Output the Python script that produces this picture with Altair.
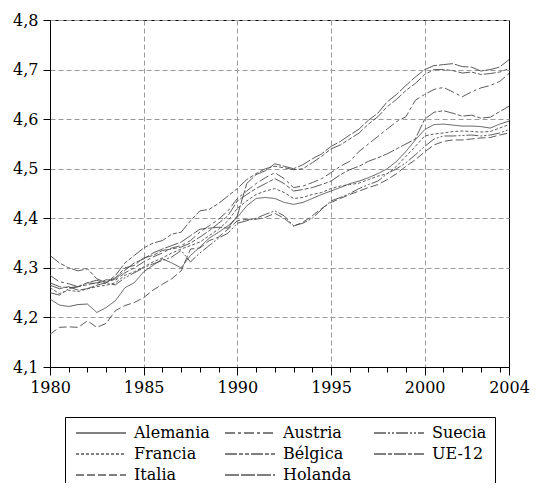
import altair as alt
import pandas as pd

# half-year observation times, 1980 .. 2004.5
periods = [1980 + 0.5 * i for i in range(50)]

# legend is filled column by column: col1 Alemania/Francia/Italia, col2 Austria/Bélgica/Holanda, col3 Suecia/UE-12
series_names = ["Alemania", "Francia", "Italia", "Austria", "Bélgica", "Holanda", "Suecia", "UE-12"]

alemania = [4.237, 4.225, 4.222, 4.226, 4.227, 4.210, 4.220, 4.234, 4.260, 4.270,
            4.292, 4.305, 4.318, 4.310, 4.300, 4.325, 4.342, 4.360, 4.372, 4.385,
            4.402, 4.425, 4.440, 4.442, 4.440, 4.432, 4.428, 4.432, 4.440, 4.448,
            4.455, 4.462, 4.470, 4.475, 4.482, 4.490, 4.500, 4.515, 4.535, 4.558,
            4.579, 4.589, 4.590, 4.588, 4.586, 4.586, 4.585, 4.582, 4.590, 4.596]
francia = [4.260, 4.248, 4.255, 4.252, 4.258, 4.262, 4.265, 4.270, 4.285, 4.292,
           4.302, 4.312, 4.320, 4.330, 4.338, 4.345, 4.352, 4.365, 4.378, 4.395,
           4.420, 4.435, 4.448, 4.455, 4.460, 4.452, 4.440, 4.442, 4.448, 4.452,
           4.460, 4.465, 4.468, 4.471, 4.478, 4.485, 4.490, 4.505, 4.525, 4.545,
           4.566, 4.570, 4.572, 4.575, 4.576, 4.575, 4.574, 4.575, 4.582, 4.589]
italia = [4.166, 4.180, 4.181, 4.180, 4.193, 4.180, 4.188, 4.214, 4.224, 4.230,
          4.240, 4.255, 4.267, 4.278, 4.294, 4.338, 4.340, 4.355, 4.362, 4.378,
          4.395, 4.398, 4.398, 4.402, 4.410, 4.400, 4.384, 4.392, 4.405, 4.420,
          4.432, 4.440, 4.448, 4.455, 4.462, 4.468, 4.478, 4.490, 4.505, 4.518,
          4.534, 4.548, 4.555, 4.558, 4.558, 4.560, 4.562, 4.563, 4.568, 4.572]
austria = [4.285, 4.272, 4.268, 4.262, 4.270, 4.268, 4.276, 4.275, 4.290, 4.300,
           4.312, 4.322, 4.330, 4.340, 4.345, 4.355, 4.372, 4.385, 4.398, 4.415,
           4.440, 4.455, 4.470, 4.482, 4.492, 4.480, 4.462, 4.465, 4.472, 4.480,
           4.492, 4.505, 4.515, 4.535, 4.550, 4.565, 4.580, 4.595, 4.605, 4.638,
           4.650, 4.660, 4.664, 4.655, 4.645, 4.655, 4.663, 4.668, 4.676, 4.692]
belgica = [4.325, 4.310, 4.300, 4.294, 4.298, 4.278, 4.270, 4.285, 4.310, 4.325,
           4.340, 4.350, 4.355, 4.368, 4.372, 4.395, 4.415, 4.418, 4.430, 4.445,
           4.460, 4.478, 4.490, 4.500, 4.505, 4.502, 4.498, 4.500, 4.512, 4.525,
           4.540, 4.548, 4.560, 4.572, 4.590, 4.605, 4.625, 4.640, 4.658, 4.672,
           4.690, 4.700, 4.700, 4.698, 4.693, 4.695, 4.690, 4.692, 4.695, 4.702]
holanda = [4.265, 4.258, 4.262, 4.255, 4.258, 4.265, 4.270, 4.278, 4.295, 4.310,
           4.318, 4.330, 4.338, 4.345, 4.352, 4.365, 4.378, 4.380, 4.382, 4.380,
           4.405, 4.470, 4.488, 4.496, 4.510, 4.505, 4.500, 4.508, 4.520, 4.530,
           4.545, 4.555, 4.568, 4.580, 4.598, 4.612, 4.635, 4.650, 4.668, 4.685,
           4.700, 4.708, 4.710, 4.712, 4.706, 4.705, 4.697, 4.700, 4.705, 4.720]
suecia = [4.250, 4.245, 4.258, 4.262, 4.270, 4.275, 4.268, 4.266, 4.280, 4.290,
          4.300, 4.308, 4.315, 4.322, 4.335, 4.312, 4.330, 4.345, 4.360, 4.370,
          4.390, 4.395, 4.400, 4.408, 4.415, 4.405, 4.385, 4.390, 4.400, 4.418,
          4.435, 4.442, 4.450, 4.460, 4.468, 4.475, 4.490, 4.500, 4.512, 4.528,
          4.545, 4.560, 4.566, 4.566, 4.567, 4.568, 4.566, 4.568, 4.572, 4.579]
ue12 = [4.270, 4.262, 4.260, 4.262, 4.266, 4.270, 4.272, 4.280, 4.300, 4.305,
        4.320, 4.325, 4.335, 4.338, 4.342, 4.350, 4.362, 4.375, 4.390, 4.405,
        4.435, 4.448, 4.460, 4.470, 4.480, 4.470, 4.455, 4.458, 4.462, 4.468,
        4.475, 4.488, 4.498, 4.505, 4.515, 4.522, 4.530, 4.540, 4.550, 4.560,
        4.600, 4.614, 4.617, 4.612, 4.606, 4.608, 4.602, 4.604, 4.615, 4.626]

values = {"Alemania": alemania, "Francia": francia, "Italia": italia,
          "Austria": austria, "Bélgica": belgica, "Holanda": holanda,
          "Suecia": suecia, "UE-12": ue12}

dashes = [[1, 0], [3, 2], [8, 3], [10, 3, 3, 3],
          [12, 2, 4, 2, 4, 2], [14, 2], [12, 2, 2, 2, 2, 2], [12, 2, 4, 2]]

rows = []
for name in series_names:
    for t, v in zip(periods, values[name]):
        rows.append({"t": t, "v": v, "serie": name})
df = pd.DataFrame(rows)

FONT = "DejaVu Serif"

x_ticks = list(range(1980, 2005)) + [2004.5]
y_ticks = [4.1, 4.2, 4.3, 4.4, 4.5, 4.6, 4.7, 4.8]

chart = alt.Chart(df).mark_line(strokeWidth=0.9, color="#4a4a4a").encode(
    x=alt.X("t:Q", scale=alt.Scale(domain=[1980, 2004.5], nice=False, zero=False),
            axis=alt.Axis(values=x_ticks, title=None,
                          labelExpr="datum.value % 5 == 0 ? format(datum.value, 'd') : (datum.value > 2004.2 ? '2004' : '')",
                          labelOverlap=False, labelFlush=False, labelBound=False,
                          tickSize={"condition": {"test": "datum.value % 5 == 0 || datum.value > 2004.2", "value": 8}, "value": 5},
                          gridOpacity={"condition": {"test": "datum.value % 5 == 0 && datum.value > 1980", "value": 1}, "value": 0},
                          labelPadding=4)),
    y=alt.Y("v:Q", scale=alt.Scale(domain=[4.1, 4.8], nice=False, zero=False),
            axis=alt.Axis(values=y_ticks, title=None, tickSize=7, labelPadding=5,
                          labelExpr="replace(format(datum.value, '.1f'), '.', ',')")),
    strokeDash=alt.StrokeDash("serie:N", scale=alt.Scale(domain=series_names, range=dashes),
                              legend=alt.Legend(title=None, orient="none", legendX=15, legendY=397,
                                                columns=3)),
).properties(
    width=459, height=347,
    autosize=alt.AutoSizeParams(type="none"),
).configure(
    padding={"left": 42, "top": 12, "right": 21, "bottom": 116}
).configure_view(
    stroke="black", strokeWidth=1
).configure_axis(
    labelFont=FONT, labelFontSize=16, labelColor="black",
    domainColor="black", tickColor="black",
    grid=True, gridColor="#9a9a9a", gridDash=[5, 3], gridWidth=1,
).configure_legend(
    strokeColor="black", padding=8, labelFont=FONT, labelFontSize=16, labelColor="black",
    symbolType="M-5,0H5", symbolSize=100, symbolStrokeColor="black", symbolFillColor="transparent",
    symbolStrokeWidth=1, symbolOffset=20, labelOffset=25, columnPadding=12, rowPadding=5,
    gridAlign="all",
)

chart.save("out.html", embed_options={"renderer": "svg", "actions": False})
